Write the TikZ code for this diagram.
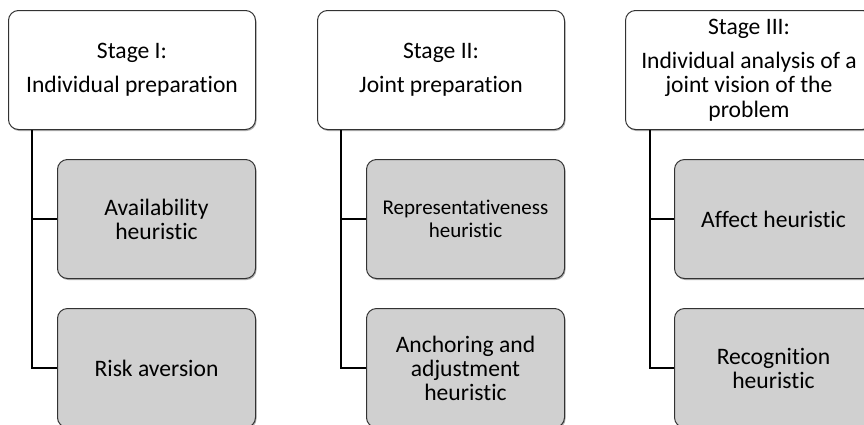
\documentclass[tikz,border=0pt]{standalone}
\usepackage{fontspec}
\setmainfont{Carlito}[Ligatures=NoCommon]
\usetikzlibrary{shadows}
\definecolor{itemgray}{RGB}{208,208,208}
\definecolor{edgegray}{RGB}{50,50,50}
\begin{document}
\begin{tikzpicture}[x=1pt,y=-1pt,
  boxbase/.style={draw=edgegray, line width=1pt, rounded corners=10pt,
    minimum height=119pt, anchor=north west, align=center, inner sep=0pt,
    text=black,
    drop shadow={shadow xshift=1pt, shadow yshift=-1.5pt, opacity=0.3, fill=black}},
  stagebox/.style={boxbase, fill=white, minimum width=247pt,
    font=\fontsize{23.6}{24.5}\selectfont},
  itembox/.style={boxbase, fill=itemgray, minimum width=198pt,
    font=\fontsize{23.6}{24}\selectfont},
  link/.style={draw=black, line width=1.1pt}]
\useasboundingbox (0,0) rectangle (864,424);
\clip (0,0) rectangle (864,424);

% Column I
\node[stagebox] (s1) at (8,10) {Stage I:\\[9.5pt]Individual preparation};
\node[itembox] (a1) at (57,159) {Availability\\heuristic};
\node[itembox] (a2) at (57,308) {Risk aversion};
\draw[link] ([xshift=24pt]s1.south west) |- (a1.west);
\draw[link] ([xshift=24pt]s1.south west) |- (a2.west);

% Column II
\node[stagebox] (s2) at (317,10) {Stage II:\\[9.5pt]Joint preparation};
\node[itembox, font=\fontsize{21}{23}\selectfont] (b1) at (366,159) {Representativeness\\heuristic};
\node[itembox] (b2) at (366,308) {Anchoring and\\adjustment\\heuristic};
\draw[link] ([xshift=24pt]s2.south west) |- (b1.west);
\draw[link] ([xshift=24pt]s2.south west) |- (b2.west);

% Column III
\node[stagebox] (s3) at (625,10) {Stage III:\\[9.5pt]Individual analysis of a\\joint vision of the\\problem};
\node[itembox] (c1) at (674,159) {Affect heuristic};
\node[itembox] (c2) at (674,308) {Recognition\\heuristic};
\draw[link] ([xshift=25pt]s3.south west) |- (c1.west);
\draw[link] ([xshift=25pt]s3.south west) |- (c2.west);
\end{tikzpicture}
\end{document}
